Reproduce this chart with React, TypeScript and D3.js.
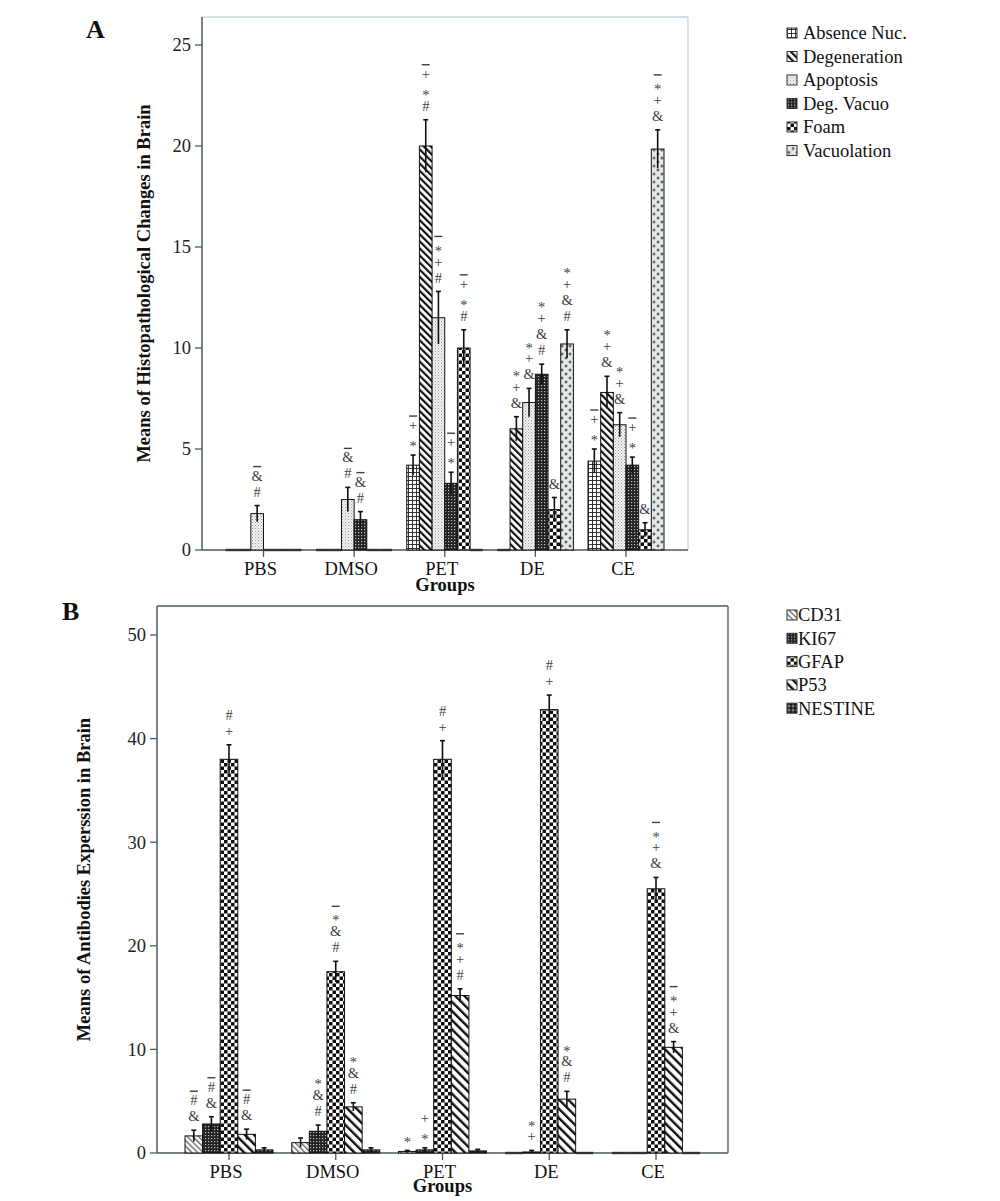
import React from 'react';
import * as d3 from 'd3';

// groups shared by both panels
const groups = ['PBS', 'DMSO', 'PET', 'DE', 'CE'];

// panel A: histopathological changes
const seriesA = ['Absence Nuc.', 'Degeneration', 'Apoptosis', 'Deg. Vacuo', 'Foam', 'Vacuolation'];
const absenceNuc = [0, 0, 4.2, 0, 4.4];
const degeneration = [0, 0, 20.0, 6.0, 7.8];
const apoptosis = [1.8, 2.5, 11.5, 7.3, 6.2];
const degVacuo = [0, 1.5, 3.3, 8.7, 4.2];
const foam = [0, 0, 10.0, 2.0, 1.0];
const vacuolation = [0, 0, 0, 10.2, 19.85];
const errA = [
  [0, 0, 0.5, 0, 0.6],
  [0, 0, 1.3, 0.6, 0.8],
  [0.4, 0.6, 1.3, 0.7, 0.6],
  [0, 0.4, 0.55, 0.5, 0.4],
  [0, 0, 0.9, 0.6, 0.35],
  [0, 0, 0, 0.7, 0.95],
];
// significance marks, top to bottom ('-' is the bar sign)
const marksA = [
  ['', '', '-+*', '', '-+*'],
  ['', '', '-+*#', '*+&', '*+&'],
  ['-&#', '-&#', '-*+#', '*+&', '*+&'],
  ['', '-&#', '-+*', '*+&#', '-+*'],
  ['', '', '-+*#', '&', '&'],
  ['', '', '', '*+&#', '-*+&'],
];
const ticksA = [0, 5, 10, 15, 20, 25];

// panel B: antibodies expression
const seriesB = ['CD31', 'KI67', 'GFAP', 'P53', 'NESTINE'];
const cd31 = [1.65, 1.0, 0.15, 0, 0];
const ki67 = [2.8, 2.1, 0.3, 0.1, 0];
const gfap = [38.0, 17.5, 38.0, 42.8, 25.5];
const p53 = [1.8, 4.45, 15.2, 5.2, 10.2];
const nestine = [0.3, 0.3, 0.2, 0, 0];
const errB = [
  [0.55, 0.45, 0.1, 0, 0],
  [0.7, 0.6, 0.2, 0.15, 0],
  [1.4, 1.0, 1.8, 1.4, 1.1],
  [0.5, 0.4, 0.65, 0.75, 0.55],
  [0.2, 0.2, 0.15, 0, 0],
];
const marksB = [
  ['-#&', '', '*', '', ''],
  ['-#&', '*&#', '+*', '*+', ''],
  ['#+', '-*&#', '#+', '#+', '-*+&'],
  ['-#&', '*&#', '-*+#', '*&#', '-*+&'],
  ['', '', '', '', ''],
];
const ticksB = [0, 10, 20, 30, 40, 50];

const valuesA = [absenceNuc, degeneration, apoptosis, degVacuo, foam, vacuolation];
const valuesB = [cd31, ki67, gfap, p53, nestine];
const patternsA = ['pGrid', 'pDiagBold', 'pStipple', 'pDark', 'pCheck', 'pCross'];
const patternsB = ['pDiagLight', 'pDark', 'pCheck', 'pDiagWide', 'pPlusDark'];

const FONT = '"Liberation Serif", "DejaVu Serif", serif';
const AXIS = '#4b5a5c';
const MARK = '#3a3f44';
const FS = 18.5;

const Patterns = () => (
  <defs>
    <pattern id="pGrid" width="4" height="4" patternUnits="userSpaceOnUse">
      <rect width="4" height="4" fill="#fff" />
      <path d="M0,0.5H4M0.5,0V4" stroke="#222" strokeWidth="0.9" />
    </pattern>
    <pattern id="pDiagBold" width="5" height="5" patternUnits="userSpaceOnUse" patternTransform="rotate(-45)">
      <rect width="5" height="5" fill="#fff" />
      <rect width="2.2" height="5" fill="#111" />
    </pattern>
    <pattern id="pDiagLight" width="4" height="4" patternUnits="userSpaceOnUse" patternTransform="rotate(-45)">
      <rect width="4" height="4" fill="#fff" />
      <rect width="1.4" height="4" fill="#666" />
    </pattern>
    <pattern id="pDiagWide" width="6.5" height="6.5" patternUnits="userSpaceOnUse" patternTransform="rotate(-45)">
      <rect width="6.5" height="6.5" fill="#fff" />
      <rect width="2.4" height="6.5" fill="#111" />
    </pattern>
    <pattern id="pStipple" width="3" height="3" patternUnits="userSpaceOnUse">
      <rect width="3" height="3" fill="#f2f2f2" />
      <rect x="0" y="0" width="1" height="1" fill="#9a9a9a" />
      <rect x="1.5" y="1.5" width="1" height="1" fill="#b5b5b5" />
    </pattern>
    <pattern id="pDark" width="3" height="3" patternUnits="userSpaceOnUse">
      <rect width="3" height="3" fill="#222" />
      <rect x="1" y="1" width="1.2" height="1.2" fill="#bdbdbd" />
    </pattern>
    <pattern id="pCheck" width="7" height="7" patternUnits="userSpaceOnUse">
      <rect width="7" height="7" fill="#fff" />
      <rect width="3.5" height="3.5" fill="#111" />
      <rect x="3.5" y="3.5" width="3.5" height="3.5" fill="#111" />
    </pattern>
    <pattern id="pCross" width="8" height="8" patternUnits="userSpaceOnUse">
      <rect width="8" height="8" fill="#e4e8e8" />
      <path d="M2,0.5V3.5M0.5,2H3.5M6,4.5V7.5M4.5,6H7.5" stroke="#3d4646" strokeWidth="1.1" />
    </pattern>
    <pattern id="pPlusDark" width="4" height="4" patternUnits="userSpaceOnUse">
      <rect width="4" height="4" fill="#1a1a1a" />
      <path d="M2,0.5V3.5M0.5,2H3.5" stroke="#bbb" strokeWidth="0.8" />
    </pattern>
  </defs>
);

interface PanelProps {
  label: string;
  labelPos: [number, number];
  left: number;
  right: number;
  top: number;
  y: d3.ScaleLinear<number, number>;
  ticks: number[];
  centers: [number, number];
  groupWidth: number;
  series: string[];
  values: number[][];
  errs: number[][];
  marks: string[][];
  patterns: string[];
  yTitle: string;
  yTitleX: number;
  frameColor: string;
  legendX: number;
  legendY: number;
  legendStep: number;
  legendGap: number;
  groupsDy: number;
}

const Marks = ({ x, yTop, s }: { x: number; yTop: number; s: string }) => {
  if (!s) return null;
  const chars = s.split('');
  const hasBar = chars[0] === '-';
  const syms = hasBar ? chars.slice(1) : chars;
  const n = syms.length;
  const step = 16;
  const bottomC = yTop - 14;
  const topC = bottomC - (n - 1) * step;
  return (
    <g fill={MARK} fontFamily={FONT} fontSize={14.5} textAnchor="middle">
      {syms.map((c, i) => (
        <text key={i} x={x} y={topC + i * step} dy={c === '*' ? '0.7em' : '0.35em'}>
          {c}
        </text>
      ))}
      {hasBar && <line x1={x - 4} x2={x + 4} y1={topC - 9} y2={topC - 9} stroke={MARK} strokeWidth={1.4} />}
    </g>
  );
};

const Panel = (p: PanelProps) => {
  const x = d3.scalePoint<string>().domain(groups).range(p.centers);
  const inner = d3
    .scaleBand<string>()
    .domain(p.series)
    .range([-p.groupWidth / 2, p.groupWidth / 2]);
  const base = p.y(0);
  const bw = inner.bandwidth();
  return (
    <g fontFamily={FONT}>
      {/* frame */}
      <line x1={p.left} x2={p.right} y1={p.top} y2={p.top} stroke={p.frameColor} strokeWidth={1.3} />
      <line x1={p.right} x2={p.right} y1={p.top} y2={base} stroke={p.frameColor} strokeWidth={1.3} />
      <line x1={p.left} x2={p.left} y1={p.top} y2={base} stroke={AXIS} strokeWidth={1.5} />
      <line x1={p.left} x2={p.right} y1={base} y2={base} stroke={AXIS} strokeWidth={1.5} />
      {p.ticks.map((t) => (
        <g key={t}>
          <line x1={p.left - 7} x2={p.left} y1={p.y(t)} y2={p.y(t)} stroke={AXIS} strokeWidth={1.3} />
          <text x={p.left - 11} y={p.y(t)} dy="0.35em" textAnchor="end" fontSize={FS} fill="#222">
            {t}
          </text>
        </g>
      ))}
      {groups.map((g) => (
        <g key={g}>
          <line x1={x(g)!} x2={x(g)!} y1={base} y2={base + 7} stroke={AXIS} strokeWidth={1.3} />
          <text x={x(g)! - 3} y={base + 25} textAnchor="middle" fontSize={FS} fill="#111">
            {g}
          </text>
        </g>
      ))}
      <text x={(p.left + p.right) / 2} y={base + p.groupsDy} textAnchor="middle" fontSize={FS} fontWeight="bold" fill="#111">
        Groups
      </text>
      <text
        transform={`translate(${p.yTitleX},${(p.top + base) / 2}) rotate(-90)`}
        textAnchor="middle"
        fontSize={FS}
        fontWeight="bold"
        fill="#111"
      >
        {p.yTitle}
      </text>
      <text x={p.labelPos[0]} y={p.labelPos[1]} fontSize={26} fontWeight="bold" fill="#111">
        {p.label}
      </text>
      {/* bars */}
      {p.series.map((s, si) =>
        groups.map((g, gi) => {
          const v = p.values[si][gi];
          const e = p.errs[si][gi];
          const bx = x(g)! + inner(s)!;
          const cx = bx + bw / 2;
          return (
            <g key={s + g}>
              {v > 0 ? (
                <rect x={bx} y={p.y(v)} width={bw} height={base - p.y(v)} fill={`url(#${p.patterns[si]})`} stroke="#111" strokeWidth={1} />
              ) : (
                <line x1={bx} x2={bx + bw} y1={base} y2={base} stroke="#333" strokeWidth={2.4} />
              )}
              {e > 0 && (
                <g stroke="#111" strokeWidth={1.6}>
                  <line x1={cx} x2={cx} y1={p.y(Math.max(0, v - e))} y2={p.y(v + e)} />
                  <line x1={cx - 2.5} x2={cx + 2.5} y1={p.y(v + e)} y2={p.y(v + e)} />
                </g>
              )}
              <Marks x={cx} yTop={p.y(v + e)} s={p.marks[si][gi]} />
            </g>
          );
        })
      )}
      {/* legend */}
      {p.series.map((s, si) => (
        <g key={s} transform={`translate(${p.legendX},${p.legendY + si * p.legendStep})`}>
          <rect x={0} y={-5} width={10} height={10} fill={`url(#${p.patterns[si]})`} stroke="#333" strokeWidth={1} />
          <text x={p.legendGap} y={0} dy="0.35em" fontSize={FS} fill="#111">
            {s}
          </text>
        </g>
      ))}
    </g>
  );
};

const App = () => {
  const yA = d3.scaleLinear().domain([0, 25]).range([550, 45]);
  const yB = d3.scaleLinear().domain([0, 50]).range([1153, 635]);
  return (
    <div style={{ position: 'absolute', left: 0, top: 0 }}>
      <svg width={1000} height={1201} style={{ display: 'block', background: '#fff' }}>
        <Patterns />
        <Panel
          label="A"
          labelPos={[86, 38]}
          left={202}
          right={688}
          top={17}
          y={yA}
          ticks={ticksA}
          centers={[263.5, 626]}
          groupWidth={76}
          series={seriesA}
          values={valuesA}
          errs={errA}
          marks={marksA}
          patterns={patternsA}
          yTitle="Means of Histopathological Changes in Brain"
          yTitleX={150}
          frameColor="#c9d5da"
          legendX={787}
          legendY={33}
          legendStep={23.5}
          legendGap={16}
          groupsDy={41}
        />
        <Panel
          label="B"
          labelPos={[62, 620]}
          left={157}
          right={728}
          top={606}
          y={yB}
          ticks={ticksB}
          centers={[229, 656]}
          groupWidth={88}
          series={seriesB}
          values={valuesB}
          errs={errB}
          marks={marksB}
          patterns={patternsB}
          yTitle="Means of Antibodies Experssion in Brain"
          yTitleX={90}
          frameColor={AXIS}
          legendX={787}
          legendY={615}
          legendStep={23.3}
          legendGap={11}
          groupsDy={39}
        />
      </svg>
    </div>
  );
};

export default App;
